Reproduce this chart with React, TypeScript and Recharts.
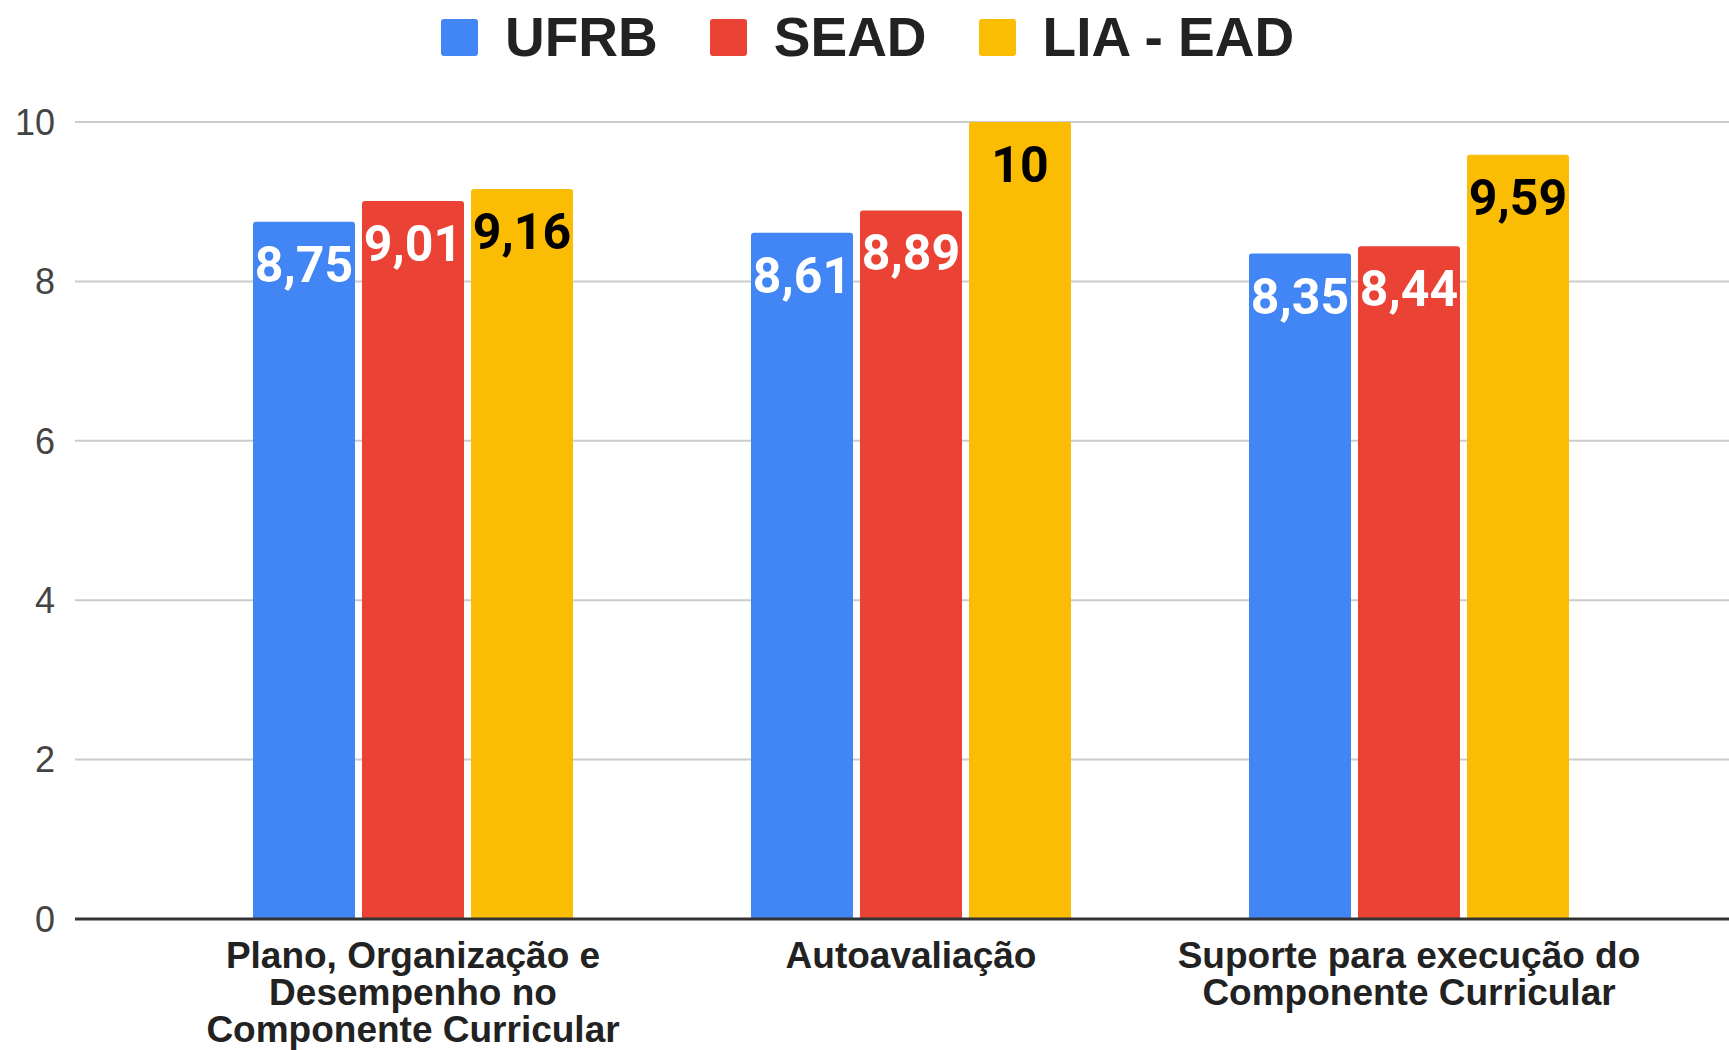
import React from "react";
import { Bar, BarChart, CartesianGrid, LabelList, XAxis, YAxis } from "recharts";

const categories = [
  "Plano, Organização e\nDesempenho no\nComponente Curricular",
  "Autoavaliação",
  "Suporte para execução do\nComponente Curricular",
];
const ufrb = [8.75, 8.61, 8.35];
const sead = [9.01, 8.89, 8.44];
const liaEad = [9.16, 10, 9.59];
const yTicks = [0, 2, 4, 6, 8, 10];

const series = [
  { key: "ufrb", name: "UFRB", color: "#4285F4", text: "#ffffff" },
  { key: "sead", name: "SEAD", color: "#EA4335", text: "#ffffff" },
  { key: "lia", name: "LIA - EAD", color: "#FBBC04", text: "#000000" },
];

const data = categories.map((c, i) => ({
  category: c,
  ufrb: ufrb[i],
  sead: sead[i],
  lia: liaEad[i],
}));

const fmt = (v: number) => String(v).replace(".", ",");

function CategoryTick(props: any) {
  const { x, y, payload } = props;
  const lines = String(payload.value).split("\n");
  return (
    <text
      x={x}
      y={y}
      textAnchor="middle"
      fontFamily="'Liberation Sans', Arial, sans-serif"
      fontWeight="bold"
      fontSize={37}
      fill="#222"
    >
      {lines.map((l, i) => (
        <tspan key={i} x={x} y={y + 49 + i * 37}>
          {l}
        </tspan>
      ))}
    </text>
  );
}

function makeLabel(fill: string, aura: string) {
  return (props: any) => {
    const { x, y, width, value } = props;
    return (
      <text
        x={x + width / 2}
        y={y + 60}
        textAnchor="middle"
        fontFamily="Roboto, sans-serif"
        fontWeight="bold"
        fontSize={50}
        fill={fill}
        stroke={aura}
        strokeWidth={3}
        paintOrder="stroke"
      >
        {fmt(value)}
      </text>
    );
  };
}

function LegendRow() {
  return (
    <div
      style={{
        position: "absolute",
        left: 441,
        top: 0,
        height: 74,
        display: "flex",
        alignItems: "center",
      }}
    >
      {series.map((s, i) => (
        <div key={s.key} style={{ display: "flex", alignItems: "center", marginRight: i < 2 ? 52 : 0 }}>
          <div style={{ width: 37, height: 37, borderRadius: 3, background: s.color, marginRight: 27 }} />
          <span
            style={{
              fontFamily: "'Liberation Sans', Arial, sans-serif",
              fontWeight: "bold",
              fontSize: 55,
              lineHeight: 1,
              color: "#222",
              whiteSpace: "nowrap",
            }}
          >
            {s.name}
          </span>
        </div>
      ))}
    </div>
  );
}

export default function App() {
  return (
    <div style={{ position: "absolute", left: 0, top: 0, width: 1729, height: 1050, background: "#fff" }}>
      <BarChart
        width={1729}
        height={1050}
        data={data}
        margin={{ top: 122, right: 0, left: 0, bottom: 0 }}
        barGap={7}
      >
        <CartesianGrid horizontal vertical={false} stroke="#cccccc" strokeWidth={2} />
        <XAxis
          dataKey="category"
          height={131}
          padding={{ left: 89, right: 71 }}
          tickLine={false}
          tickSize={0}
          tickMargin={0}
          axisLine={{ stroke: "#333", strokeWidth: 3 }}
          tick={<CategoryTick />}
          interval={0}
        />
        <YAxis
          width={75}
          domain={[0, 10]}
          ticks={yTicks}
          axisLine={false}
          tickLine={false}
          tickSize={0}
          tickMargin={20}
          tick={{ fontSize: 36, fill: "#444", fontFamily: "'Liberation Sans', Arial, sans-serif" }}
        />
        {series.map((s) => (
          <Bar
            key={s.key}
            dataKey={s.key}
            name={s.name}
            fill={s.color}
            barSize={102}
            radius={[3, 3, 0, 0]}
            isAnimationActive={false}
          >
            <LabelList dataKey={s.key} content={makeLabel(s.text, s.color)} />
          </Bar>
        ))}
      </BarChart>
      <LegendRow />
    </div>
  );
}
